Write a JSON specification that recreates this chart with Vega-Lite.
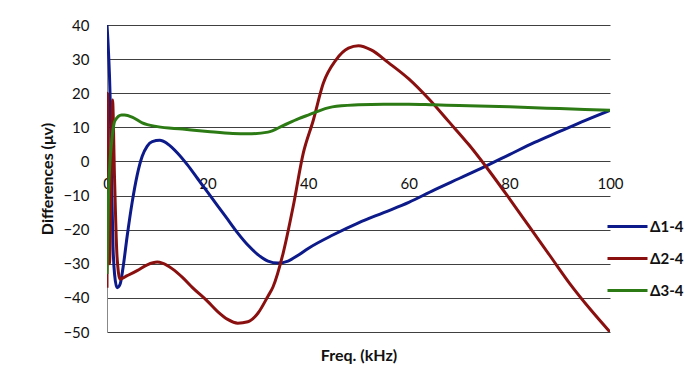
{
  "$schema": "https://vega.github.io/schema/vega-lite/v6.json",
  "width": 503,
  "height": 307,
  "autosize": {"type": "none"},
  "padding": {"left": 107, "top": 25, "right": 74, "bottom": 46},
  "background": "white",
  "config": {
    "font": "Lato",
    "view": {"stroke": null},
    "axis": {"labelFont": "Lato", "titleFont": "Lato"}
  },
  "datasets": {
    "d": [
      {"f": 0, "v": 40, "s": "Δ1-4"}, {"f": 0.3, "v": 32, "s": "Δ1-4"}, {"f": 0.6, "v": 20, "s": "Δ1-4"}, {"f": 0.9, "v": -5, "s": "Δ1-4"}, {"f": 1.2, "v": -25, "s": "Δ1-4"}, {"f": 1.5, "v": -33, "s": "Δ1-4"}, {"f": 2.0, "v": -37, "s": "Δ1-4"}, {"f": 2.6, "v": -36, "s": "Δ1-4"}, {"f": 3.2, "v": -31, "s": "Δ1-4"}, {"f": 4, "v": -22, "s": "Δ1-4"}, {"f": 5, "v": -12, "s": "Δ1-4"}, {"f": 6, "v": -4, "s": "Δ1-4"}, {"f": 7, "v": 1.5, "s": "Δ1-4"}, {"f": 8, "v": 4.5, "s": "Δ1-4"}, {"f": 9, "v": 5.8, "s": "Δ1-4"}, {"f": 10.5, "v": 6.2, "s": "Δ1-4"}, {"f": 12, "v": 5.2, "s": "Δ1-4"}, {"f": 14, "v": 2.5, "s": "Δ1-4"}, {"f": 16, "v": -1, "s": "Δ1-4"}, {"f": 18, "v": -5, "s": "Δ1-4"}, {"f": 20, "v": -9, "s": "Δ1-4"}, {"f": 22, "v": -13, "s": "Δ1-4"}, {"f": 24, "v": -17, "s": "Δ1-4"}, {"f": 26, "v": -21, "s": "Δ1-4"}, {"f": 28, "v": -24.5, "s": "Δ1-4"}, {"f": 30, "v": -27.3, "s": "Δ1-4"}, {"f": 32, "v": -29.2, "s": "Δ1-4"}, {"f": 34, "v": -29.8, "s": "Δ1-4"}, {"f": 36, "v": -29.2, "s": "Δ1-4"}, {"f": 38, "v": -27.5, "s": "Δ1-4"}, {"f": 40, "v": -25.5, "s": "Δ1-4"}, {"f": 45, "v": -21.5, "s": "Δ1-4"}, {"f": 50, "v": -18, "s": "Δ1-4"}, {"f": 55, "v": -15, "s": "Δ1-4"}, {"f": 60, "v": -12, "s": "Δ1-4"}, {"f": 65, "v": -8.4, "s": "Δ1-4"}, {"f": 70, "v": -5, "s": "Δ1-4"}, {"f": 75, "v": -1.6, "s": "Δ1-4"}, {"f": 80, "v": 2, "s": "Δ1-4"}, {"f": 85, "v": 5.6, "s": "Δ1-4"}, {"f": 90, "v": 8.8, "s": "Δ1-4"}, {"f": 95, "v": 12, "s": "Δ1-4"}, {"f": 100, "v": 15, "s": "Δ1-4"},
      {"f": 0, "v": -37, "s": "Δ2-4"}, {"f": 0.1, "v": 20, "s": "Δ2-4"}, {"f": 0.3, "v": -5, "s": "Δ2-4"}, {"f": 0.5, "v": -30, "s": "Δ2-4"}, {"f": 0.8, "v": -5, "s": "Δ2-4"}, {"f": 1.1, "v": 18, "s": "Δ2-4"}, {"f": 1.5, "v": -5, "s": "Δ2-4"}, {"f": 2.0, "v": -28, "s": "Δ2-4"}, {"f": 2.6, "v": -34.5, "s": "Δ2-4"}, {"f": 4, "v": -33.5, "s": "Δ2-4"}, {"f": 6, "v": -32, "s": "Δ2-4"}, {"f": 8, "v": -30.3, "s": "Δ2-4"}, {"f": 10, "v": -29.5, "s": "Δ2-4"}, {"f": 11, "v": -29.8, "s": "Δ2-4"}, {"f": 13, "v": -31.5, "s": "Δ2-4"}, {"f": 15, "v": -34, "s": "Δ2-4"}, {"f": 17, "v": -37, "s": "Δ2-4"}, {"f": 20, "v": -41, "s": "Δ2-4"}, {"f": 22, "v": -44, "s": "Δ2-4"}, {"f": 24, "v": -46.3, "s": "Δ2-4"}, {"f": 26, "v": -47.4, "s": "Δ2-4"}, {"f": 28, "v": -47, "s": "Δ2-4"}, {"f": 30, "v": -44.5, "s": "Δ2-4"}, {"f": 32, "v": -39.5, "s": "Δ2-4"}, {"f": 33, "v": -36.8, "s": "Δ2-4"}, {"f": 35, "v": -27, "s": "Δ2-4"}, {"f": 37, "v": -13.3, "s": "Δ2-4"}, {"f": 39, "v": 2.3, "s": "Δ2-4"}, {"f": 41, "v": 12, "s": "Δ2-4"}, {"f": 43, "v": 22.9, "s": "Δ2-4"}, {"f": 45.5, "v": 29.7, "s": "Δ2-4"}, {"f": 48, "v": 33.2, "s": "Δ2-4"}, {"f": 50, "v": 33.9, "s": "Δ2-4"}, {"f": 52.5, "v": 32.7, "s": "Δ2-4"}, {"f": 56, "v": 28.9, "s": "Δ2-4"}, {"f": 60, "v": 24.2, "s": "Δ2-4"}, {"f": 64, "v": 18.3, "s": "Δ2-4"}, {"f": 68, "v": 11.6, "s": "Δ2-4"}, {"f": 72, "v": 4.8, "s": "Δ2-4"}, {"f": 76, "v": -2.8, "s": "Δ2-4"}, {"f": 80, "v": -10.9, "s": "Δ2-4"}, {"f": 84, "v": -19.2, "s": "Δ2-4"}, {"f": 88, "v": -27.5, "s": "Δ2-4"}, {"f": 92, "v": -35.8, "s": "Δ2-4"}, {"f": 96, "v": -43.2, "s": "Δ2-4"}, {"f": 100, "v": -50, "s": "Δ2-4"},
      {"f": 0, "v": -33, "s": "Δ3-4"}, {"f": 0.15, "v": -22, "s": "Δ3-4"}, {"f": 0.3, "v": -10, "s": "Δ3-4"}, {"f": 0.6, "v": 0, "s": "Δ3-4"}, {"f": 0.9, "v": 5.4, "s": "Δ3-4"}, {"f": 1.6, "v": 12, "s": "Δ3-4"}, {"f": 2.9, "v": 13.6, "s": "Δ3-4"}, {"f": 3.5, "v": 13.6, "s": "Δ3-4"}, {"f": 5, "v": 13, "s": "Δ3-4"}, {"f": 7, "v": 11.3, "s": "Δ3-4"}, {"f": 10, "v": 10.2, "s": "Δ3-4"}, {"f": 15, "v": 9.5, "s": "Δ3-4"}, {"f": 20, "v": 8.8, "s": "Δ3-4"}, {"f": 25, "v": 8.2, "s": "Δ3-4"}, {"f": 28, "v": 8.1, "s": "Δ3-4"}, {"f": 32, "v": 8.6, "s": "Δ3-4"}, {"f": 35, "v": 10.5, "s": "Δ3-4"}, {"f": 38, "v": 12.5, "s": "Δ3-4"}, {"f": 40, "v": 13.6, "s": "Δ3-4"}, {"f": 44.8, "v": 16, "s": "Δ3-4"}, {"f": 50, "v": 16.6, "s": "Δ3-4"}, {"f": 55, "v": 16.8, "s": "Δ3-4"}, {"f": 60, "v": 16.8, "s": "Δ3-4"}, {"f": 65, "v": 16.6, "s": "Δ3-4"}, {"f": 70, "v": 16.4, "s": "Δ3-4"}, {"f": 80, "v": 16, "s": "Δ3-4"}, {"f": 90, "v": 15.5, "s": "Δ3-4"}, {"f": 100, "v": 15, "s": "Δ3-4"}
    ]
  },
  "data": {"name": "d"},
  "mark": {"type": "line", "strokeWidth": 3, "interpolate": "monotone", "clip": true},
  "encoding": {
    "x": {
      "field": "f", "type": "quantitative",
      "scale": {"domain": [0, 100], "nice": false},
      "axis": {
        "values": [0, 20, 40, 60, 80, 100],
        "grid": false, "domain": false, "ticks": false,
        "offset": -170.6, "labelFlush": false, "labelOverlap": false,
        "labelPadding": 15, "labelFontSize": 15, "labelColor": "#111",
        "title": "Freq. (kHz)", "titleFontSize": 16, "titleFontWeight": "bold", "titleColor": "#111",
        "titleY": 194, "titleBaseline": "middle"
      }
    },
    "y": {
      "field": "v", "type": "quantitative",
      "scale": {"domain": [-50, 40], "nice": false},
      "axis": {
        "values": [-50, -40, -30, -20, -10, 0, 10, 20, 30, 40],
        "grid": true, "gridColor": "#404040", "gridWidth": 1,
        "domain": true, "domainColor": "#888", "ticks": false,
        "labelPadding": 18, "labelFontSize": 15, "labelColor": "#111",
        "title": "Differences (μv)", "titleFontSize": 16, "titleFontWeight": "bold", "titleColor": "#111",
        "titleX": -60, "titleY": 153.5, "titleBaseline": "middle", "titleAngle": -90
      }
    },
    "color": {
      "field": "s", "type": "nominal",
      "scale": {"domain": ["Δ1-4", "Δ2-4", "Δ3-4"], "range": ["#0c1a8a", "#8a1010", "#2b7a14"]},
      "legend": {
        "title": null, "orient": "none", "legendX": 499, "legendY": 180,
        "symbolType": "stroke", "symbolSize": 1600, "symbolStrokeWidth": 3,
        "labelFontSize": 15, "labelFontWeight": "bold", "labelColor": "#111",
        "labelOffset": 1, "rowPadding": 2, "padding": 0
      }
    }
  }
}
